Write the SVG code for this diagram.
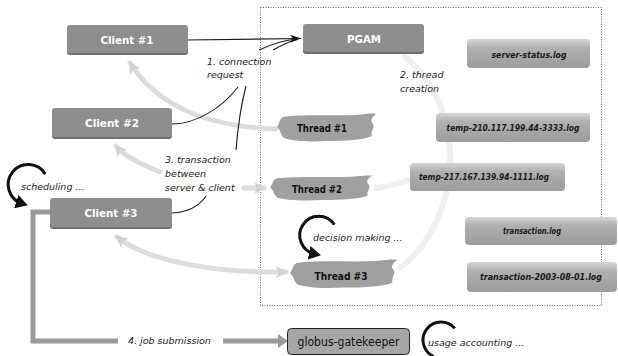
<svg xmlns="http://www.w3.org/2000/svg" width="618" height="356" viewBox="0 0 618 356">
  <defs>
    <style>
      .box { fill: #8e8e8e; }
      .boxEdge { fill: #6f6f6f; }
      .boxLabel { font-family: "DejaVu Sans", Verdana, sans-serif; font-weight: bold; font-size: 11px; fill: #ffffff; text-anchor: middle; }
      .log { fill: url(#logFill); }
      .logLabel { font-family: "DejaVu Sans", Verdana, sans-serif; font-weight: bold; font-style: italic; font-size: 8.5px; fill: #1a1a1a; text-anchor: middle; }
      .blob { fill: #a0a0a0; }
      .threadLabel { font-family: "DejaVu Sans", Verdana, sans-serif; font-weight: bold; font-size: 11px; fill: #111111; text-anchor: middle; }
      .note { font-family: "DejaVu Sans", Verdana, sans-serif; font-style: italic; font-size: 9.5px; fill: #1c1c1c; }
      .thin { fill: none; stroke: #1a1a1a; stroke-width: 1.1; }
      .pale { fill: none; stroke: #dcdcdc; stroke-width: 5; stroke-linecap: round; }
      .faint { fill: none; stroke: #f0f0f0; stroke-width: 6; stroke-linecap: round; }
      .cycle { fill: none; stroke: #111111; stroke-width: 3; }
      .job { fill: none; stroke: #9a9a9a; stroke-width: 5; }
      .frame { fill: none; stroke: #6a6a6a; stroke-width: 1; stroke-dasharray: 1 1.5; }
    </style>
    <linearGradient id="logFill" x1="0" y1="0" x2="0" y2="1">
      <stop offset="0" stop-color="#d6d6d6"/>
      <stop offset="0.3" stop-color="#b0b0b0"/>
      <stop offset="1" stop-color="#9c9c9c"/>
    </linearGradient>
    <marker id="blackHead" markerUnits="userSpaceOnUse" markerWidth="12" markerHeight="10" refX="11" refY="5" orient="auto">
      <path d="M0,1 L11,5 L0,9 L3,5 Z" fill="#111111"/>
    </marker>
    <marker id="cycleHead" markerUnits="userSpaceOnUse" markerWidth="14" markerHeight="14" refX="6" refY="7" orient="auto">
      <path d="M0,0 L12,7 L0,14 Z" fill="#111111"/>
    </marker>
    <marker id="paleHead" markerUnits="userSpaceOnUse" markerWidth="14" markerHeight="14" refX="10" refY="7" orient="auto">
      <path d="M0,1 L12,7 L0,13 L3,7 Z" fill="#d2d2d2"/>
    </marker>
    <marker id="paleTail" markerUnits="userSpaceOnUse" markerWidth="14" markerHeight="14" refX="2" refY="7" orient="auto">
      <path d="M12,1 L0,7 L12,13 L9,7 Z" fill="#d2d2d2"/>
    </marker>
    <!-- brush-stroke outline shared by the thread nodes -->
    <path id="brush" d="M6,5 C25,2 55,4 80,3 C90,2 97,1 100,2 C95,6 94,9 97,12 C99,16 94,20 96,24 C88,28 70,29 50,29 C30,30 15,29 7,26 C3,22 4,18 0,15 C3,11 2,8 6,5 Z"/>
  </defs>

  <rect width="618" height="356" fill="#ffffff"/>

  <!-- server-side frame -->
  <rect class="frame" x="260.5" y="7.5" width="341" height="298"/>

  <!-- connectors -->
  <g id="connectors">
    <!-- 2. thread creation -->
    <path class="faint" d="M405,57 C470,110 462,220 400,268"/>
    <path class="faint" d="M376,188 C390,186 400,183 410,180"/>
    <!-- replies travelling back to the clients -->
    <path class="pale" d="M276,129 C215,127 160,110 130,63" marker-end="url(#paleHead)"/>
    <path class="pale" d="M160,172 C140,164 124,156 116,146" marker-end="url(#paleHead)"/>
    <path class="pale" d="M244,188 L264,188" marker-end="url(#paleHead)"/>
    <path class="pale" d="M117,237 C150,263 220,273 286,272" marker-start="url(#paleTail)" marker-end="url(#paleHead)"/>
    <!-- 1. connection request -->
    <path class="thin" d="M188,40 L301,38.5" marker-end="url(#blackHead)"/>
    <path class="thin" d="M172,124 C196,124 222,108 238,87"/>
    <path class="thin" d="M172,213 C190,212 200,205 206,196"/>
    <path class="thin" d="M236,150 C238,125 241,105 246,86"/>
    <path class="thin" d="M259,50 C272,44 285,40 297,39"/>
    <path class="thin" d="M273,50 C282,45 290,41 297,39.5"/>
    <!-- 4. job submission -->
    <path class="job" d="M50,212 L33,212 L33,341 L118,341"/>
    <path class="job" d="M223,341 L280,341"/>
    <path d="M278,334 L288,341 L278,348 Z" fill="#9a9a9a"/>
  </g>

  <!-- clients -->
  <g id="client1">
    <rect class="boxEdge" x="67" y="27" width="121" height="28" rx="3"/>
    <rect class="box" x="67" y="25" width="121" height="28" rx="3"/>
    <text class="boxLabel" x="127" y="44" textLength="53" lengthAdjust="spacingAndGlyphs">Client #1</text>
  </g>
  <g id="client2">
    <rect class="boxEdge" x="52" y="110" width="120" height="29" rx="3"/>
    <rect class="box" x="52" y="108" width="120" height="29" rx="3"/>
    <text class="boxLabel" x="112" y="127" textLength="54" lengthAdjust="spacingAndGlyphs">Client #2</text>
  </g>
  <g id="client3">
    <rect class="boxEdge" x="50" y="200" width="122" height="29" rx="3"/>
    <rect class="box" x="50" y="198" width="122" height="29" rx="3"/>
    <text class="boxLabel" x="111" y="217" textLength="53" lengthAdjust="spacingAndGlyphs">Client #3</text>
  </g>

  <!-- server -->
  <g id="pgam">
    <rect class="boxEdge" x="303" y="26" width="121" height="28" rx="3"/>
    <rect class="box" x="303" y="24" width="121" height="28" rx="3"/>
    <text class="boxLabel" x="364" y="43" textLength="34" lengthAdjust="spacingAndGlyphs">PGAM</text>
  </g>

  <!-- worker threads -->
  <g id="thread1">
    <use href="#brush" class="blob" transform="translate(277,112) scale(0.99,1)"/>
    <text class="threadLabel" x="322" y="132" textLength="50" lengthAdjust="spacingAndGlyphs">Thread #1</text>
  </g>
  <g id="thread2">
    <use href="#brush" class="blob" transform="translate(270,174) scale(1.02,0.9)"/>
    <text class="threadLabel" x="317" y="193" textLength="50" lengthAdjust="spacingAndGlyphs">Thread #2</text>
  </g>
  <g id="thread3">
    <use href="#brush" class="blob" transform="translate(290,258) scale(1.07,1.02)"/>
    <text class="threadLabel" x="341" y="280" textLength="53" lengthAdjust="spacingAndGlyphs">Thread #3</text>
  </g>

  <!-- log files -->
  <g id="log-server-status">
    <rect class="log" x="467" y="39" width="123" height="29" rx="4"/>
    <text class="logLabel" x="529" y="58" textLength="75" lengthAdjust="spacingAndGlyphs">server-status.log</text>
  </g>
  <g id="log-temp-210">
    <rect class="log" x="436" y="113" width="154" height="29" rx="4"/>
    <text class="logLabel" x="513" y="131" textLength="133" lengthAdjust="spacingAndGlyphs">temp-210.117.199.44-3333.log</text>
  </g>
  <g id="log-temp-217">
    <rect class="log" x="410" y="163" width="155" height="28" rx="4"/>
    <text class="logLabel" x="484" y="180" textLength="130" lengthAdjust="spacingAndGlyphs">temp-217.167.139.94-1111.log</text>
  </g>
  <g id="log-transaction">
    <rect class="log" x="465" y="217" width="152" height="28" rx="4"/>
    <text class="logLabel" x="532" y="234" textLength="58" lengthAdjust="spacingAndGlyphs">transaction.log</text>
  </g>
  <g id="log-transaction-daily">
    <rect class="log" x="467" y="262" width="150" height="30" rx="4"/>
    <text class="logLabel" x="541" y="280" textLength="122" lengthAdjust="spacingAndGlyphs">transaction-2003-08-01.log</text>
  </g>

  <!-- gatekeeper -->
  <g id="gatekeeper">
    <rect x="287.5" y="328.5" width="122" height="26" rx="4" fill="#a6a6a6" stroke="#222222" stroke-width="1"/>
    <text x="348.5" y="346" font-family="DejaVu Sans, Verdana, sans-serif" font-size="12" fill="#111111" text-anchor="middle" textLength="102" lengthAdjust="spacingAndGlyphs">globus-gatekeeper</text>
  </g>

  <!-- activity cycles -->
  <g id="scheduling">
    <path class="cycle" d="M45.3,174.1 A20,20 0 1 0 22,203.5" marker-end="url(#cycleHead)"/>
    <text class="note" x="21" y="190" font-size="9">scheduling ...</text>
  </g>
  <g id="decision-making">
    <path class="cycle" d="M334.4,224.6 A19,19 0 1 0 315,254" marker-end="url(#cycleHead)"/>
    <text class="note" x="313" y="241">decision making  ...</text>
  </g>
  <g id="usage-accounting">
    <path class="cycle" d="M454.8,328.4 A18,18 0 1 0 433.4,356.3"/>
    <text class="note" x="428" y="346">usage accounting ...</text>
  </g>

  <!-- step labels -->
  <g id="labels">
    <text class="note" x="207" y="65">1. connection</text>
    <text class="note" x="207" y="78">request</text>
    <text class="note" x="400" y="78">2. thread</text>
    <text class="note" x="400" y="92">creation</text>
    <text class="note" x="165" y="163">3. transaction</text>
    <text class="note" x="165" y="177">between</text>
    <text class="note" x="165" y="191">server &amp; client</text>
    <text class="note" x="128" y="344">4. job submission</text>
  </g>
</svg>
